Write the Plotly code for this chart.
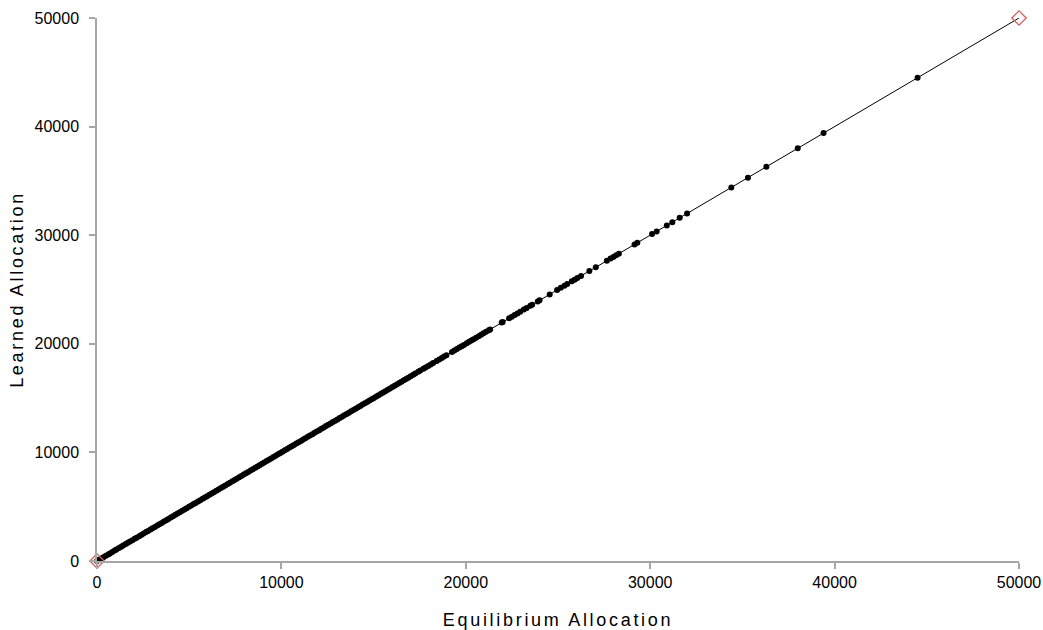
import plotly.graph_objects as go

# Equilibrium allocation values (x)
equilibrium = [
    0, 40, 130, 260, 350, 480, 610, 700, 830, 960, 1050, 1190, 1310, 1420, 1560, 1670,
    1790, 1920, 2040, 2150, 2290, 2400, 2530, 2660, 2770, 2900, 3010, 3140, 3270, 3380,
    3510, 3630, 3760, 3870, 4000, 4120, 4250, 4370, 4490, 4620, 4740, 4860, 4990, 5110,
    5240, 5350, 5480, 5600, 5730, 5850, 5970, 6100, 6220, 6340, 6470, 6590, 6720, 6840,
    6960, 7090, 7210, 7340, 7460, 7580, 7710, 7830, 7960, 8080, 8200, 8330, 8450, 8580,
    8700, 8820, 8950, 9070, 9200, 9320, 9440, 9570, 9690, 9820, 9940, 10060, 10190, 10310,
    10440, 10560, 10680, 10810, 10930, 11060, 11180, 11300, 11430, 11550, 11680, 11800,
    11920, 12050, 12170, 12300, 12420, 12540, 12670, 12790, 12920, 13040, 13160, 13290,
    13410, 13540, 13660, 13780, 13910, 14030, 14160, 14280, 14400, 14530, 14650, 14780,
    14900, 15020, 15150, 15270, 15400, 15520, 15640, 15770, 15890, 16020, 16140, 16260,
    16390, 16510, 16640, 16760, 16880,
    17010, 17150, 17260, 17420, 17530, 17700, 17820, 17960, 18100, 18230, 18420, 18560,
    18700, 18820, 18950, 19250, 19380, 19520, 19650, 19780, 19900, 20050, 20180, 20300,
    20420, 20560, 20700, 20830, 20960, 21100, 21250, 21320,
    21950, 22000, 22350, 22500, 22650, 22800, 22950, 23150, 23300, 23500, 23600, 23900,
    24000, 24550, 24950, 25150, 25350, 25500, 25750, 25900, 26050, 26250, 26700, 27050,
    27650, 27850, 28000, 28150, 28300, 29150, 29300, 30100, 30350, 30900, 31200, 31600,
    32000, 34400, 35300, 36300, 38000, 39400, 44500,
]

# Learned allocation values (y) (they coincide with equilibrium)
learned = [
    0, 40, 130, 260, 350, 480, 610, 700, 830, 960, 1050, 1190, 1310, 1420, 1560, 1670,
    1790, 1920, 2040, 2150, 2290, 2400, 2530, 2660, 2770, 2900, 3010, 3140, 3270, 3380,
    3510, 3630, 3760, 3870, 4000, 4120, 4250, 4370, 4490, 4620, 4740, 4860, 4990, 5110,
    5240, 5350, 5480, 5600, 5730, 5850, 5970, 6100, 6220, 6340, 6470, 6590, 6720, 6840,
    6960, 7090, 7210, 7340, 7460, 7580, 7710, 7830, 7960, 8080, 8200, 8330, 8450, 8580,
    8700, 8820, 8950, 9070, 9200, 9320, 9440, 9570, 9690, 9820, 9940, 10060, 10190, 10310,
    10440, 10560, 10680, 10810, 10930, 11060, 11180, 11300, 11430, 11550, 11680, 11800,
    11920, 12050, 12170, 12300, 12420, 12540, 12670, 12790, 12920, 13040, 13160, 13290,
    13410, 13540, 13660, 13780, 13910, 14030, 14160, 14280, 14400, 14530, 14650, 14780,
    14900, 15020, 15150, 15270, 15400, 15520, 15640, 15770, 15890, 16020, 16140, 16260,
    16390, 16510, 16640, 16760, 16880,
    17010, 17150, 17260, 17420, 17530, 17700, 17820, 17960, 18100, 18230, 18420, 18560,
    18700, 18820, 18950, 19250, 19380, 19520, 19650, 19780, 19900, 20050, 20180, 20300,
    20420, 20560, 20700, 20830, 20960, 21100, 21250, 21320,
    21950, 22000, 22350, 22500, 22650, 22800, 22950, 23150, 23300, 23500, 23600, 23900,
    24000, 24550, 24950, 25150, 25350, 25500, 25750, 25900, 26050, 26250, 26700, 27050,
    27650, 27850, 28000, 28150, 28300, 29150, 29300, 30100, 30350, 30900, 31200, 31600,
    32000, 34400, 35300, 36300, 38000, 39400, 44500,
]

# Reference line endpoints
ref_x = [0, 50000]
ref_y = [0, 50000]

tick_vals = [0, 10000, 20000, 30000, 40000, 50000]
tick_text = ["0", "10000", "20000", "30000", "40000", "50000"]

FONT = "Liberation Sans, Arial, sans-serif"

fig = go.Figure()

fig.add_trace(go.Scatter(
    x=ref_x, y=ref_y, mode="lines",
    line=dict(color="#000000", width=1),
    showlegend=False, hoverinfo="skip",
))

fig.add_trace(go.Scatter(
    x=equilibrium, y=learned, mode="markers",
    marker=dict(color="#000000", size=6, line=dict(width=0)),
    cliponaxis=False, showlegend=False,
))

fig.add_trace(go.Scatter(
    x=ref_x, y=ref_y, mode="markers",
    marker=dict(symbol="diamond-open", color="#d0605a", size=11, line=dict(width=1.3)),
    cliponaxis=False, showlegend=False,
))

axis_common = dict(
    range=[0, 50000],
    tickvals=tick_vals, ticktext=tick_text,
    showgrid=False, zeroline=False, automargin=False,
    showline=True, linecolor="#a6a6a6", linewidth=1.5,
    ticks="outside", ticklen=6, tickcolor="#a6a6a6", tickwidth=1.5,
    tickfont=dict(family=FONT, size=16, color="#000000"),
)

fig.update_layout(
    width=1043, height=630,
    margin=dict(l=97, r=24, t=18, b=69),
    paper_bgcolor="white", plot_bgcolor="white",
    xaxis=dict(
        **axis_common,
        title=dict(text='<span style="letter-spacing:2.7px">Equilibrium Allocation</span>',
                   font=dict(family=FONT, size=18, color="#000000"), standoff=24),
    ),
    yaxis=dict(
        **axis_common,
        ticklabelstandoff=7,
        title=dict(text='<span style="letter-spacing:2.7px">Learned Allocation</span>',
                   font=dict(family=FONT, size=18, color="#000000"), standoff=6),
    ),
)

fig.write_html("out.html")
